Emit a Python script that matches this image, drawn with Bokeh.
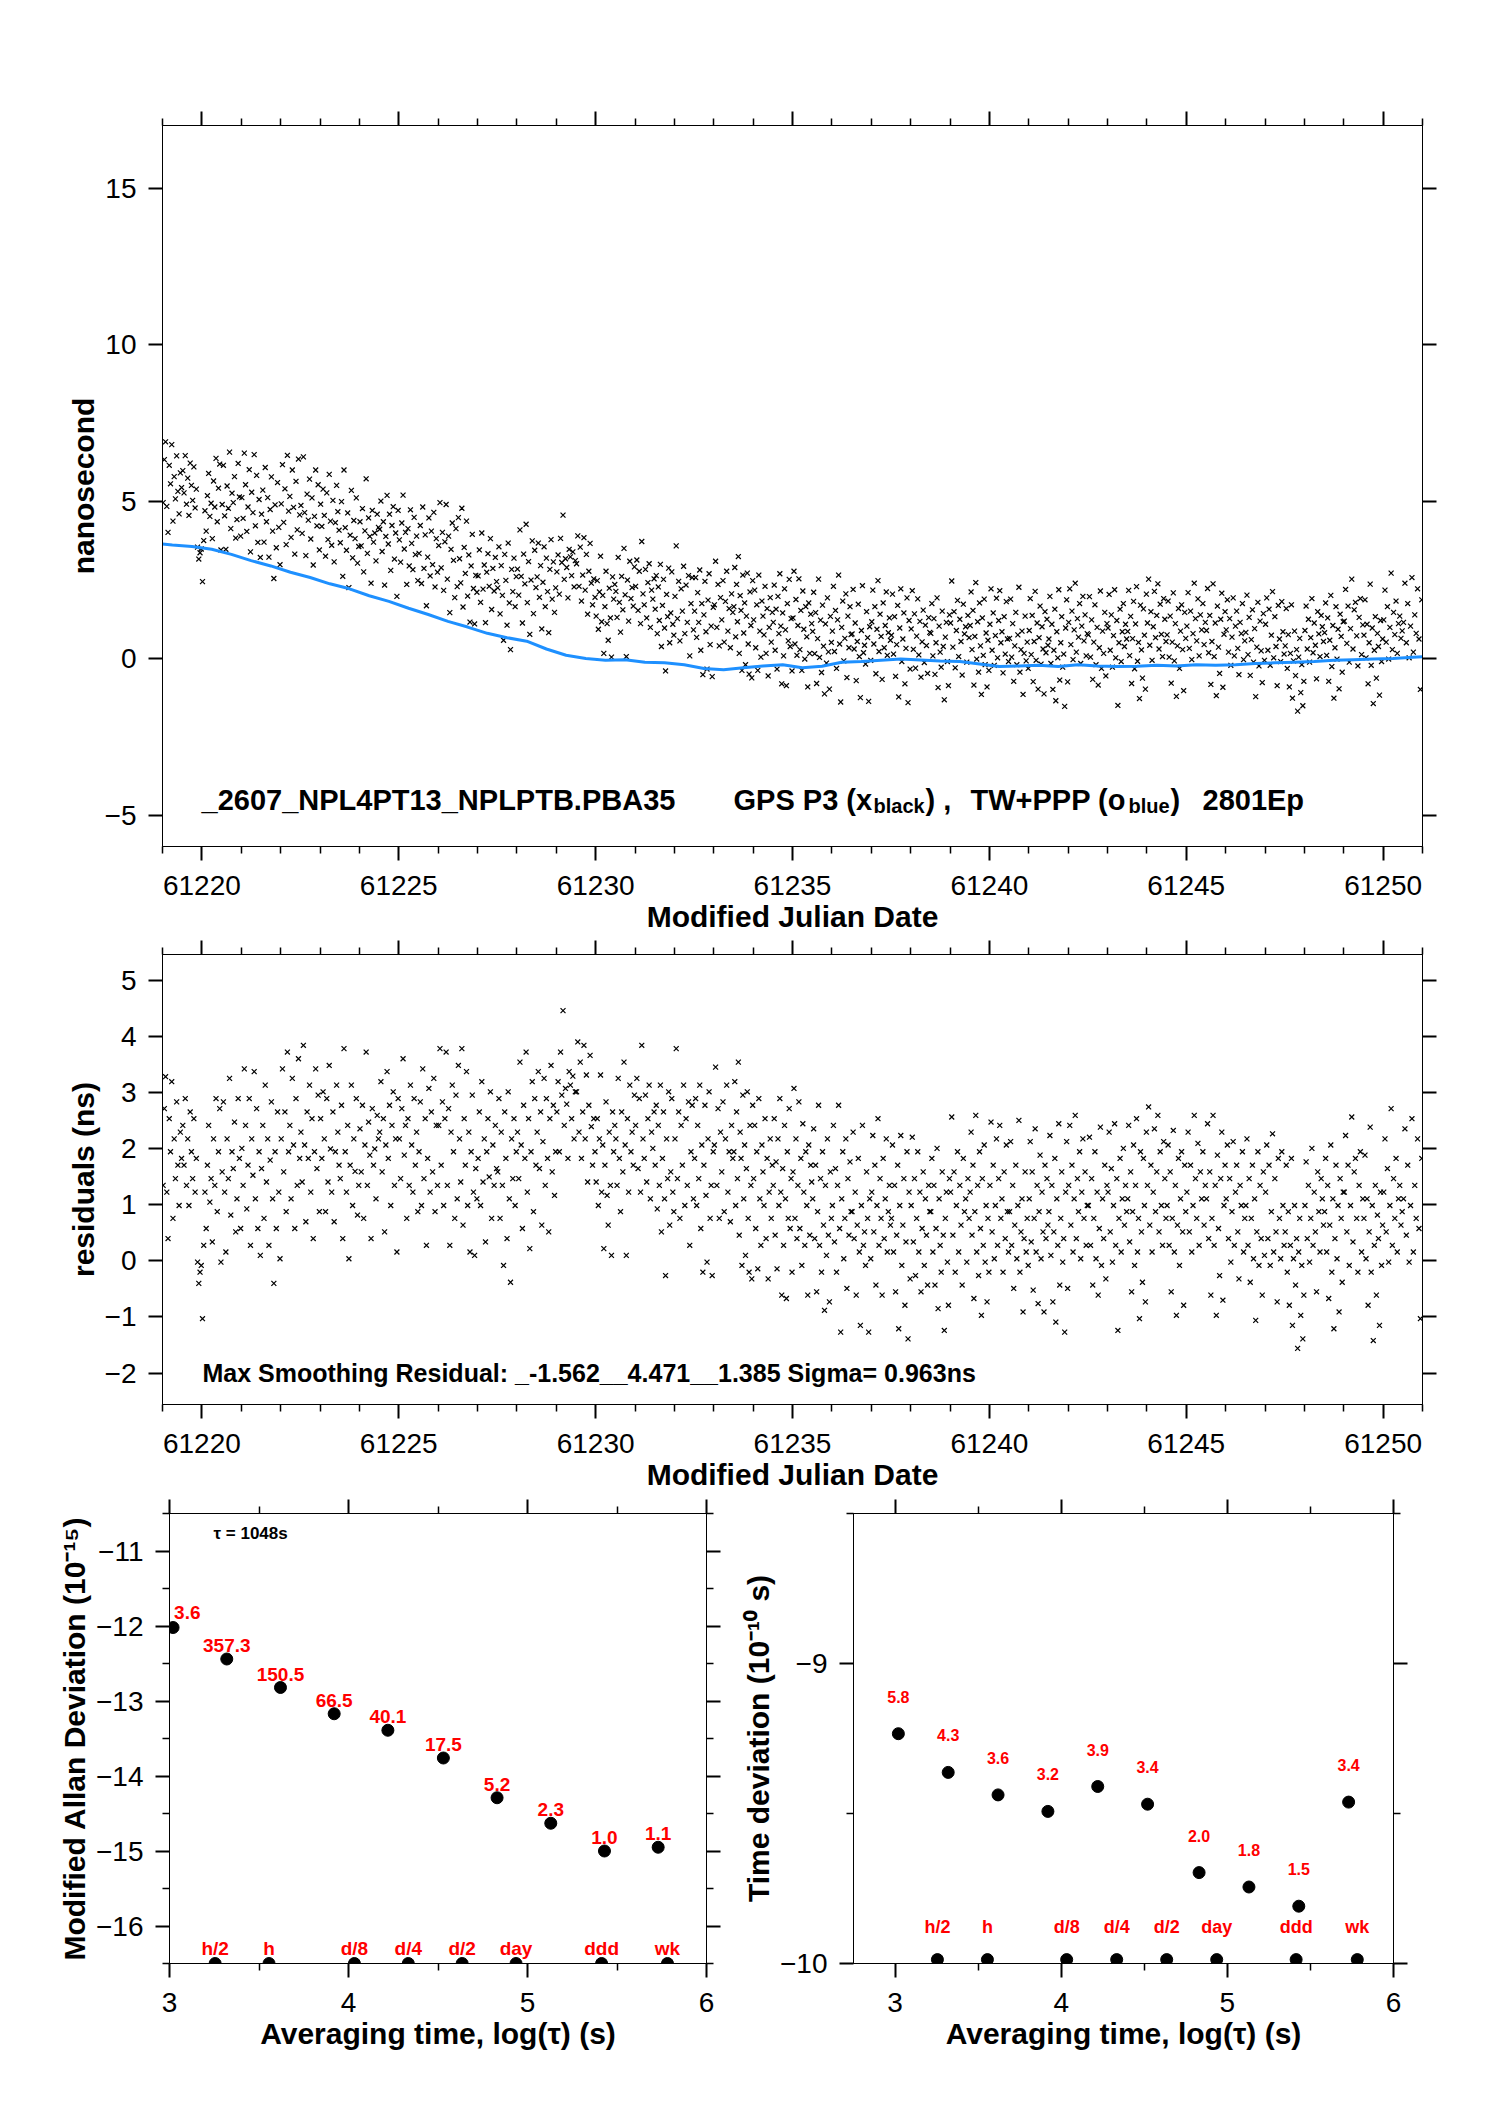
from bokeh.plotting import figure
from bokeh.layouts import column, row
from bokeh.models import (Range1d, LinearAxis, FixedTicker, Label, LabelSet,
                          ColumnDataSource, CustomJSTickFormatter)
from bokeh.core.properties import value
from bokeh.embed import file_html
from bokeh.resources import INLINE
import numpy as np

FONT = "Liberation Sans"

# ---------------- data ----------------
# TW+PPP curve (blue), ns, at half-day block centres plus both ends
blue_mjd = [61219.0, 61219.25, 61219.75, 61220.25, 61220.75, 61221.25, 61221.75,
            61222.25, 61222.75, 61223.25, 61223.75, 61224.25, 61224.75, 61225.25,
            61225.75, 61226.25, 61226.75, 61227.25, 61227.75, 61228.25, 61228.75,
            61229.25, 61229.75, 61230.25, 61230.75, 61231.25, 61231.75, 61232.25,
            61232.75, 61233.25, 61233.75, 61234.25, 61234.75, 61235.25, 61235.75,
            61236.25, 61236.75, 61237.25, 61237.75, 61238.25, 61238.75, 61239.25,
            61239.75, 61240.25, 61240.75, 61241.25, 61241.75, 61242.25, 61242.75,
            61243.25, 61243.75, 61244.25, 61244.75, 61245.25, 61245.75, 61246.25,
            61246.75, 61247.25, 61247.75, 61248.25, 61248.75, 61249.25, 61249.75,
            61250.25, 61250.75, 61251.0]
blue_ns = [3.65, 3.62, 3.57, 3.48, 3.32, 3.12, 2.95, 2.75, 2.58, 2.38, 2.22,
           2.00, 1.82, 1.60, 1.40, 1.18, 1.00, 0.80, 0.66, 0.55, 0.30,
           0.10, 0.00, -0.06, -0.04, -0.12, -0.14, -0.20, -0.32, -0.36, -0.30,
           -0.24, -0.20, -0.30, -0.25, -0.12, -0.10, -0.06, -0.02, -0.05, -0.08,
           -0.10, -0.18, -0.26, -0.24, -0.22, -0.26, -0.20, -0.24, -0.26, -0.25,
           -0.22, -0.24, -0.20, -0.22, -0.20, -0.16, -0.14, -0.12, -0.10, -0.06,
           -0.04, -0.02, 0.00, 0.04, 0.05]

# GPS P3 minus TW+PPP residuals (ns), one list per half day from MJD 61219.0
resid_halfday = [
    [1.35, 2.72, 3.29, 1.23, 0.40, 2.54, 1.95, 3.20, 0.76, 2.18, 1.47, 2.84, 1.71, 0.99, 2.30, 1.83],
    [2.42, 1.71, 2.90, 1.35, 2.18, 0.99, 2.66, 1.95, 1.47, 2.54, 1.23, 1.83, -0.02, -0.40, -0.20, -0.08],
    [-1.03, 0.28, 1.23, 0.58, 1.71, 2.42, 1.05, 1.47, 0.34, 2.18, 1.35, 2.90, 0.88, 1.95, 2.72, -0.02],
    [1.59, 2.84, 1.23, 0.16, 2.18, 1.47, 3.26, 0.82, 1.95, 1.65, 2.48, 0.52, 1.11, 2.90, 1.83, 0.58],
    [2.01, 1.35, 3.43, 2.42, 0.93, 1.71, 2.90, 0.28, 2.18, 1.53, 3.38, 1.11, 2.72, 0.58, 1.95, 0.10],
    [1.65, 2.42, 0.76, 3.14, 1.41, 2.18, 0.28, 1.80, 2.84, 1.11, -0.40, 1.95, 0.58, 2.66, 1.23, 0.04],
    [2.18, 3.43, 1.59, 2.66, 0.88, 3.73, 1.95, 2.42, 1.11, 3.26, 2.07, 0.58, 2.90, 1.35, 3.61, 1.83],
    [2.30, 1.41, 3.85, 2.07, 0.70, 2.66, 1.83, 3.14, 1.23, 2.54, 0.40, 1.95, 3.43, 1.65, 2.96, 0.88],
    [2.54, 1.83, 3.02, 2.18, 0.88, 2.90, 1.41, 3.49, 2.00, 1.23, 2.66, 0.70, 1.95, 3.14, 2.30, 1.71],
    [1.47, 2.78, 0.40, 3.79, 1.95, 1.23, 2.42, 0.04, 1.71, 3.14, 0.99, 2.18, 1.60, 2.90, 0.82, 1.35],
    [2.36, 1.59, 2.78, 0.76, 2.07, 3.73, 1.35, 2.48, 1.89, 0.40, 2.72, 1.71, 2.00, 1.11, 2.60, 2.18],
    [2.30, 3.20, 1.59, 2.54, 0.52, 2.07, 3.38, 1.83, 2.78, 0.99, 2.42, 3.02, 1.35, 2.18, 0.16, 2.90],
    [2.18, 1.47, 2.72, 3.61, 1.89, 2.42, 0.76, 2.54, 1.35, 3.14, 2.07, 1.23, 2.90, 1.71, 2.30, 0.88],
    [1.95, 2.84, 0.99, 3.43, 1.47, 2.54, 0.28, 1.83, 3.08, 1.23, 2.66, 1.59, 3.26, 0.88, 2.42, 1.35],
    [2.42, 3.79, 1.71, 2.84, 0.99, 2.54, 3.73, 1.35, 2.72, 0.28, 2.30, 3.14, 1.95, 0.76, 2.96, 1.11],
    [3.49, 2.18, 1.41, 3.79, 0.64, 2.54, 1.71, 3.38, 0.99, 2.30, 0.16, 1.95, 2.96, 1.23, 0.10, 1.65, 1.11],
    [1.83, 2.66, 0.99, 3.20, 1.41, 2.18, 0.34, 1.95, 2.54, 1.50, 3.02, 0.76, 2.07, 1.35, 2.42, 1.65],
    [1.59, 2.90, 0.76, 2.30, 1.35, -0.08, 2.66, 1.83, 0.40, 3.02, 1.11, -0.38, 2.18, 1.47, 2.54, 0.99, 1.95],
    [2.30, 1.47, 3.55, 2.07, 0.58, 2.78, 1.83, 3.73, 1.23, 2.54, 0.22, 1.95, 3.20, 0.88, 2.90, 1.71],
    [2.30, 3.38, 1.65, 2.66, 0.64, 2.13, 3.26, 1.35, 2.90, 1.83, 0.52, 2.54, 3.49, 1.59, 2.78, 1.17, 1.95],
    [2.66, 3.20, 1.95, 3.73, 2.96, 4.47, 2.42, 3.08, 2.80, 1.83, 3.38, 3.14, 2.54, 3.30, 2.18, 3.02],
    [3.02, 3.91, 2.30, 3.55, 1.83, 2.66, 3.85, 2.18, 3.32, 1.41, 2.78, 3.67, 2.40, 1.71, 2.54, 1.95],
    [1.41, 2.54, 0.99, 2.18, 3.32, 1.23, 2.07, 0.22, 1.71, 2.84, 1.17, 0.64, 2.30, 1.35, 0.10, 2.66, 1.95, 2.42],
    [2.18, 1.35, 3.26, 1.83, 0.88, 2.66, 1.59, 3.55, 2.07, 0.10, 2.54, 1.23, 3.14, 1.95, 2.30, 1.71, 2.96],
    [2.42, 3.26, 1.65, 2.90, 1.23, 3.85, 2.18, 1.83, 2.96, 1.41, 2.54, 3.14, 1.11, 2.30, 2.01, 2.66],
    [1.71, 2.78, 0.93, 2.42, 1.35, 3.14, 0.52, 1.83, 2.66, 1.11, -0.26, 2.18, 1.47, 3.02, 0.64, 1.59, 2.90, 1.23, 0.88],
    [2.18, 3.79, 1.47, 2.66, 0.76, 2.42, 1.71, 3.14, 0.99, 2.54, 1.35, 2.84, 0.28, 1.95, 2.78, 1.11],
    [1.83, 2.90, 0.99, 2.42, 1.47, 3.14, 0.58, 2.07, -0.20, 1.71, 2.78, 1.17, -0.02, 2.18, 3.02, 0.76, 1.35, -0.26, 1.95],
    [2.07, 3.46, 1.35, 2.72, 0.76, 2.30, 1.59, 2.84, 0.88, 2.18, 3.14, 1.23, 1.95, 0.70, 2.42, 1.83],
    [1.95, 3.20, 0.99, 2.66, 1.47, 3.55, 0.46, 2.30, 1.83, -0.08, 2.96, 1.11, 2.07, 0.10, 1.65, 3.02, 0.76, -0.20, 2.42, 1.35, -0.32, 2.78],
    [1.47, 2.42, 0.58, 1.95, -0.14, 2.90, 1.11, 0.28, 2.07, 1.59, 0.99, 2.54, 0.40, 1.83, -0.32, 1.23, 2.18, 0.76, 1.71],
    [1.35, 2.54, 0.46, 1.77, -0.14, 2.18, 0.99, 2.90, 1.23, -0.61, 1.65, 0.28, 2.42, 1.11, -0.67, 1.95, 0.76, 2.72, 0.58, 1.47, -0.20],
    [1.59, 3.08, 0.76, 2.18, 0.40, 1.35, 2.84, 0.58, 1.83, -0.08, 2.45, 1.23, 0.28, 1.95, 0.99, -0.61, 2.07, 0.46, 1.71, 1.41],
    [1.11, 2.36, 0.40, 1.71, -0.55, 0.88, 2.78, 0.28, 1.47, -0.20, 1.95, 0.64, -0.88, 1.35, 0.10, 2.18, 0.46, -0.73, 1.59, 0.76],
    [0.99, 2.42, 0.34, 1.65, -0.20, 1.35, 2.78, 0.58, -1.27, 1.11, 1.95, 0.04, 0.76, 2.18, -0.49, 1.47, 0.46, 1.77, 0.88],
    [0.88, 2.30, 0.40, 1.23, -0.61, 0.64, 1.83, 0.16, -1.15, 0.99, 2.42, 0.28, 0.52, -0.08, 1.59, 0.76, -1.27, 1.11, 0.04],
    [1.23, 2.24, 0.52, 1.71, -0.43, 0.99, 2.54, 0.28, 1.47, 0.76, -0.61, 1.83, 0.40, 1.11, 2.18, 0.16, 0.88, 1.35, 0.64],
    [0.76, 2.07, 0.16, 1.35, -0.55, 0.46, 1.71, -1.21, 0.99, 2.24, -0.08, 0.64, 1.47, -0.79, 0.34, 1.95, -1.39, 1.23, -0.32],
    [0.99, 2.21, 0.34, 1.47, -0.26, 0.76, 1.95, 0.16, 1.23, -0.55, 0.58, 1.59, -0.08, 1.11, 0.46, -0.43, 1.35, 0.88],
    [0.88, 1.83, 0.16, 1.35, -0.43, 0.58, 2.01, -0.85, 1.11, 0.28, -0.20, 1.59, 0.46, -1.24, 0.76, 1.23, -0.02, -0.79, 1.47],
    [1.23, 2.57, 0.46, 1.59, -0.20, 0.99, 1.95, 0.16, 1.35, 0.64, -0.43, 1.83, 0.88, 1.11, -0.02, 1.47, 0.76],
    [1.23, 2.30, 0.46, 1.71, -0.67, 0.88, 2.60, 0.16, 1.35, -0.26, 1.95, 0.58, -0.97, 1.47, 0.28, 2.07, -0.02, 0.99, -0.73, 0.76, -0.20],
    [1.35, 2.48, 0.52, 1.71, 0.04, 0.99, 2.18, 0.28, 1.47, 2.42, 0.76, 1.11, -0.20, 1.59, 0.40, 2.07, 0.88, 0.16],
    [0.88, 2.13, 0.28, 1.35, -0.49, 0.64, 1.71, 0.04, 0.99, 2.51, -0.20, 0.52, 1.11, -0.91, 0.40, 1.59, 0.16, 0.76, -0.08],
    [1.11, 2.13, 0.34, 1.59, -0.52, 0.76, 2.36, 0.16, 1.35, -0.76, 0.88, 1.89, 0.04, 1.23, 0.52, -0.91, 1.71, 0.40, 1.47, 0.64],
    [0.88, 2.24, 0.10, 1.35, -0.73, 0.52, 1.83, -1.09, 1.11, 0.28, 2.45, -0.43, 0.76, 1.59, -0.02, 0.40, -1.27, 1.23, 2.13, -0.49],
    [1.35, 2.42, 0.64, 1.71, 0.16, 1.11, 2.60, 0.40, 1.47, 0.88, 1.95, 0.04, 1.23, 2.18, 0.76, 1.59, 0.28, 0.99],
    [0.99, 2.21, 0.28, 1.47, -0.43, 0.76, 1.95, 0.04, 1.23, -0.61, 0.58, 2.39, -0.08, 1.11, 0.40, 1.71, -0.32, 1.35],
    [1.23, 2.30, 0.52, 1.65, -0.02, 0.99, 2.45, 0.28, 1.47, -1.24, 0.76, 1.83, 0.16, 1.11, 2.01, 0.64, 1.35, 0.88],
    [1.11, 2.42, 0.34, 1.59, -0.55, 0.88, 2.07, -0.08, 1.35, 2.54, 0.16, 0.76, -1.03, 1.95, 0.52, -0.38, 1.83, 0.99, -0.73, 2.30],
    [1.35, 2.75, 0.64, 1.71, 0.16, 1.23, 2.36, 0.88, 1.59, 2.60, 0.52, 1.95, 0.99, 0.28, 2.13, 1.47, 0.76],
    [0.99, 2.07, 0.28, 1.59, -0.55, 0.76, 2.33, 0.16, 1.35, -0.97, 0.64, 1.83, -0.08, 1.11, 1.95, 0.52, -0.79, 1.71, 0.88],
    [1.23, 2.30, 0.52, 1.71, 0.16, 0.99, 2.60, 1.47, 0.76, 2.10, 0.28, 1.59, 1.11, 1.95, 0.64, 1.35],
    [1.11, 2.45, 0.40, 1.59, -0.61, 0.76, 2.60, 0.28, 1.35, -0.97, 1.89, 0.58, -0.26, 1.47, 2.30, -0.70, 0.99, 1.71],
    [1.11, 2.07, 0.40, 1.47, -0.02, 0.88, 2.13, 0.28, 1.23, 1.71, 0.52, -0.32, 1.35, 0.99, 1.95, 0.16, 0.76],
    [0.99, 2.18, 0.28, 1.47, -0.38, 0.76, 1.71, 0.04, 1.11, -1.06, 0.52, 1.95, -0.08, 1.35, 0.40, -0.61, 1.59, 0.10],
    [1.23, 2.07, 0.40, 1.71, -0.08, 0.88, 2.27, 0.16, 1.47, 0.52, -0.73, 1.83, 0.76, 0.04, 1.95, 0.99, 0.28],
    [0.52, 1.71, -0.20, 0.88, -0.79, 0.28, 1.83, -1.15, 0.04, 0.99, -0.43, 0.40, -1.56, 0.16, 0.76, -0.97, -0.08, -1.39, -0.61],
    [0.99, 1.77, 0.40, 1.35, -0.02, 0.76, 2.01, 0.28, 1.23, 0.52, -0.55, 1.59, 0.88, 0.16, 1.47, 1.11, 0.64],
    [0.88, 1.83, 0.16, 1.35, -0.67, 0.64, 2.07, -0.20, 1.11, -1.21, 0.40, 1.71, 0.04, 0.99, -0.91, 1.47, 0.76, -0.38, 1.23],
    [1.23, 2.24, 0.52, 1.71, -0.08, 0.99, 2.57, 0.34, 1.59, 1.83, 0.76, -0.20, 1.35, 1.95, 0.16, 1.11],
    [0.76, 1.89, 0.04, 1.11, -0.79, 0.52, 2.39, -0.20, 0.99, -1.42, 0.28, 1.35, -0.61, 0.82, 0.40, -1.15, 1.23, -0.08, 0.64],
    [1.23, 2.18, 0.52, 1.65, -0.02, 0.99, 2.72, 0.28, 1.47, 0.76, 1.83, 0.16, 1.11, 1.35, 0.64, 0.88],
    [1.11, 2.36, 0.46, 1.71, -0.02, 0.99, 2.54, 0.16, 1.35, 0.76, 2.18, 0.58, -1.03, 1.83],
]
mjd_start = 61219.0
block_days = 0.5

# stability (log10 of tau in s)
mdev_logtau = [3.02, 3.32, 3.62, 3.92, 4.22, 4.53, 4.83, 5.13, 5.43, 5.73]
mdev_log = [-12.02, -12.44, -12.82, -13.17, -13.39, -13.76, -14.29, -14.63, -15.00, -14.95]
mdev_lbl = ["3.6", "357.3", "150.5", "66.5", "40.1", "17.5", "5.2", "2.3", "1.0", "1.1"]

tdev_logtau = [3.02, 3.32, 3.62, 3.92, 4.22, 4.52, 4.83, 5.13, 5.43, 5.73]
tdev_log = [-9.234, -9.363, -9.438, -9.493, -9.410, -9.469, -9.697, -9.745, -9.809, -9.462]
tdev_lbl = ["5.8", "4.3", "3.6", "3.2", "3.9", "3.4", "2.0", "1.8", "1.5", "3.4"]

tau_names = ["h/2", "h", "d/8", "d/4", "d/2", "day", "ddd", "wk"]
tau_log = [3.255, 3.556, 4.033, 4.334, 4.635, 4.936, 5.414, 5.782]
mdev_floor = -16.5
tdev_floor = -9.987

# ---------------- derived series ----------------
t_list, r_list, g_list = [], [], []
for k, blk in enumerate(resid_halfday):
    n = len(blk)
    t = mjd_start + block_days * k + (np.arange(n) + 0.5) * block_days / n
    r = np.array(blk)
    t_list.append(t)
    r_list.append(r)
    g_list.append(r + blue_ns[k + 1])
ep_mjd = np.concatenate(t_list)
ep_resid = np.concatenate(r_list)
ep_gps = np.concatenate(g_list)

MINUS = CustomJSTickFormatter(code="return (tick < 0 ? '\u2212' : '') + Math.abs(tick).toString();")
BLANK = CustomJSTickFormatter(code="return '';")


def make_fig(fw, fh, xr, yr, bl, br, bt, bb):
    p = figure(frame_width=fw, frame_height=fh, x_range=xr, y_range=yr,
               x_axis_location=None, y_axis_location=None,
               min_border_left=bl, min_border_right=br,
               min_border_top=bt, min_border_bottom=bb,
               output_backend="svg", toolbar_location=None,
               background_fill_color="white", border_fill_color="white")
    p.grid.visible = False
    p.outline_line_color = "black"
    p.outline_line_width = 1
    return p


def add_axis(p, side, ticks, minor, labels=False, title=None, standoff=12):
    ax = LinearAxis(ticker=FixedTicker(ticks=ticks, minor_ticks=minor))
    ax.axis_line_color = "black"
    ax.axis_line_width = 1
    ax.major_tick_in = 0
    ax.major_tick_out = 14
    ax.minor_tick_in = 0
    ax.minor_tick_out = 7 if minor else 0
    ax.major_tick_line_width = 2
    ax.minor_tick_line_width = 1.5
    ax.major_tick_line_color = "black"
    ax.minor_tick_line_color = "black"
    if labels:
        ax.formatter = MINUS
        ax.major_label_text_font = FONT
        ax.major_label_text_font_size = "28px"
        ax.major_label_text_color = "black"
        ax.major_label_standoff = standoff
    else:
        # tick marks only: nothing is written on this side
        ax.formatter = BLANK
        ax.major_label_text_font_size = "1px"
        ax.major_label_text_color = None
        ax.major_label_standoff = 0
    if title:
        ax.axis_label = title
        ax.axis_label_text_font = FONT
        ax.axis_label_text_font_style = "bold"
        ax.axis_label_text_font_size = "30px"
        ax.axis_label_text_color = "black"
        ax.axis_label_standoff = 2
    p.add_layout(ax, side)


mjd_major = [61220, 61225, 61230, 61235, 61240, 61245, 61250]
mjd_minor = [61219 + i for i in range(33) if (61219 + i) % 5 != 0]


def mjd_axes(p, yticks, ytitle):
    add_axis(p, "below", mjd_major, mjd_minor, labels=True, title="Modified Julian Date", standoff=15)
    add_axis(p, "above", mjd_major, mjd_minor)
    add_axis(p, "left", yticks, [], labels=True, title=ytitle)
    add_axis(p, "right", yticks, [])


def bold_label(p, text, x, y, size, color="black"):
    p.add_layout(Label(x=x, y=y, x_units="screen", y_units="screen", text=text,
                       text_font=FONT, text_font_size=size, text_font_style="bold",
                       text_color=color, text_baseline="alphabetic", text_align="left"))


# ---------------- top: GPS P3 and TW+PPP ----------------
top = make_fig(1260, 721, Range1d(61219.0, 61251.0), Range1d(-6, 17), 162, 40, 125, 88)
mjd_axes(top, [-5, 0, 5, 10, 15], "nanosecond")
top.scatter(ep_mjd, ep_gps, marker="x", size=7, line_color="black", line_width=1.2)
top.line(blue_mjd, blue_ns, line_color="#1E90FF", line_width=3)
for txt, x, y, sz in [("_2607_NPL4PT13_NPLPTB.PBA35", 39, 47, "29px"),
                      ("GPS P3 (x", 571, 47, "29px"),
                      ("black", 711, 41, "20px"),
                      (") ,", 763, 47, "29px"),
                      ("TW+PPP (o", 808, 47, "29px"),
                      ("blue", 966, 41, "20px"),
                      (")", 1008, 47, "29px"),
                      ("2801Ep", 1040, 47, "29px")]:
    bold_label(top, txt, x, y, sz)

# ---------------- middle: residuals ----------------
mid = make_fig(1260, 450, Range1d(61219.0, 61251.0), Range1d(-2.562, 5.471), 162, 40, 19, 88)
mjd_axes(mid, [-2, -1, 0, 1, 2, 3, 4, 5], "residuals (ns)")
mid.scatter(ep_mjd, ep_resid, marker="x", size=7, line_color="black", line_width=1.2)
bold_label(mid, "Max Smoothing Residual: _-1.562__4.471__1.385  Sigma= 0.963ns", 40, 32, "25px")

logtau_major = [3, 4, 5, 6]
logtau_minor = [3.5, 4.5, 5.5]


def stab_labels(p, xs, ys, texts, size, off):
    src = ColumnDataSource(dict(x=xs, y=ys, t=texts))
    p.add_layout(LabelSet(x="x", y="y", text="t", source=src, y_offset=off,
                          text_font=value(FONT), text_font_size=size,
                          text_font_style="bold", text_color="red",
                          text_align="center", text_baseline="alphabetic"))


# ---------------- bottom left: modified Allan deviation ----------------
bl = make_fig(537, 450, Range1d(3, 6), Range1d(-16.5, -10.5), 169, 22, 20, 95)
ad_major = [-16, -15, -14, -13, -12, -11]
ad_minor = [-16.5, -15.5, -14.5, -13.5, -12.5, -11.5, -10.5]
add_axis(bl, "below", logtau_major, logtau_minor, labels=True,
         title="Averaging time, log(\u03c4) (s)", standoff=15)
add_axis(bl, "above", logtau_major, logtau_minor)
add_axis(bl, "left", ad_major, ad_minor, labels=True,
         title="Modified Allan Deviation (10\u207b\u00b9\u2075)")
add_axis(bl, "right", ad_major, ad_minor)
bl.scatter(mdev_logtau, mdev_log, size=12, color="black")
bl.scatter(tau_log, [mdev_floor] * len(tau_log), size=12, color="black")
stab_labels(bl, mdev_logtau[1:], mdev_log[1:], mdev_lbl[1:], "19px", 7)
bl.add_layout(Label(x=mdev_logtau[0], y=mdev_log[0], text=mdev_lbl[0], x_offset=1, y_offset=15,
                    text_font=FONT, text_font_size="19px", text_font_style="bold",
                    text_color="red", text_align="left", text_baseline="alphabetic"))
stab_labels(bl, tau_log, [mdev_floor] * len(tau_log), tau_names, "19px", 9)
bold_label(bl, "\u03c4 = 1048s", 44, 430, "17px")

# ---------------- bottom right: time deviation ----------------
br = make_fig(540, 450, Range1d(2.75, 6), Range1d(-10, -8.5), 125, 40, 20, 95)
add_axis(br, "below", logtau_major, logtau_minor, labels=True,
         title="Averaging time, log(\u03c4) (s)", standoff=15)
add_axis(br, "above", logtau_major, logtau_minor)
add_axis(br, "left", [-10, -9], [-9.5, -8.5], labels=True,
         title="Time deviation (10\u207b\u00b9\u2070 s)")
add_axis(br, "right", [-10, -9], [-9.5, -8.5])
br.scatter(tdev_logtau, tdev_log, size=12, color="black")
br.scatter(tau_log, [tdev_floor] * len(tau_log), size=12, color="black")
stab_labels(br, tdev_logtau, tdev_log, tdev_lbl, "16px", 31)
stab_labels(br, tau_log, [-10] * len(tau_log), tau_names, "18px", 31)

layout = column(top, mid, row(bl, br))
open("out.html", "w").write(file_html(layout, INLINE, title="GPS P3 vs TW+PPP"))
